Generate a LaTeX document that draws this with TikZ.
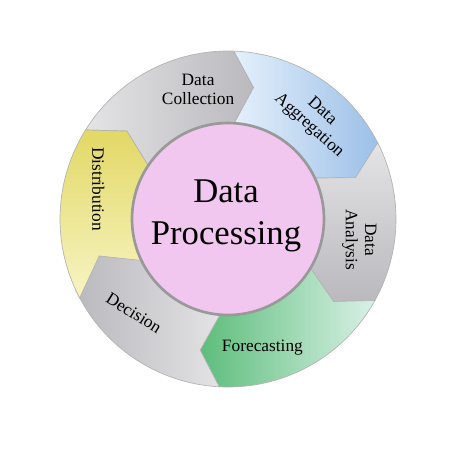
\documentclass[tikz,border=0pt]{standalone}
\usepackage{fontspec}
\setmainfont{Liberation Serif}
\usepackage{tikz}

\definecolor{cGray}{HTML}{B9B9BE}
\definecolor{cGrayLt}{HTML}{E4E4E6}
\definecolor{cBlue}{HTML}{9CC0E8}
\definecolor{cBlueLt}{HTML}{E6F1FB}
\definecolor{cGreen}{HTML}{5DBD7B}
\definecolor{cGreenLt}{HTML}{D9F1E6}
\definecolor{cYellow}{HTML}{E2D865}
\definecolor{cYellowLt}{HTML}{F7F4C4}
\definecolor{cPink}{HTML}{F1C7EF}

\begin{document}
\begin{tikzpicture}[x=0.75pt,y=0.75pt,
  seg/.style={draw=black!30, line width=0.5pt},
  lbl/.style={text=black, align=center, inner sep=0pt, font=\fontsize{13}{14.5}\selectfont}]
\def\R{168}
\def\Ri{90}
\def\M{134}
\def\rc{96}
\def\m{133}
\useasboundingbox (-228,-242) rectangle (246,219);
\coordinate (O) at (0,0);
% ring of arrows, clockwise
\shadedraw[seg, left color=cGrayLt, right color=cGray] (148:\R) arc[start angle=148, end angle=88, radius=\R] -- (79:\M) -- (88:\Ri) arc[start angle=88, end angle=148, radius=\Ri] -- (139:\M) -- cycle;
\shadedraw[seg, left color=cBlueLt, right color=cBlue] (88:\R) arc[start angle=88, end angle=27, radius=\R] -- (18:\M) -- (27:\Ri) arc[start angle=27, end angle=88, radius=\Ri] -- (79:\M) -- cycle;
\shadedraw[seg, top color=cGrayLt, bottom color=cGray] (27:\R) arc[start angle=27, end angle=-29, radius=\R] -- (-38:\M) -- (-29:\Ri) arc[start angle=-29, end angle=27, radius=\Ri] -- (18:\M) -- cycle;
\shadedraw[seg, left color=cGreen, right color=cGreenLt] (-29:\R) arc[start angle=-29, end angle=-93, radius=\R] -- (-102:\M) -- (-93:\Ri) arc[start angle=-93, end angle=-29, radius=\Ri] -- (-38:\M) -- cycle;
\shadedraw[seg, left color=cGray, right color=cGrayLt] (-93:\R) arc[start angle=-93, end angle=-155, radius=\R] -- (-164:\M) -- (-155:\Ri) arc[start angle=-155, end angle=-93, radius=\Ri] -- (-102:\M) -- cycle;
\shadedraw[seg, top color=cYellow, bottom color=cYellowLt] (208:\R) arc[start angle=208, end angle=148, radius=\R] -- (139:\M) -- (148:\Ri) arc[start angle=148, end angle=208, radius=\Ri] -- (196:\M) -- cycle;
% centre
\filldraw[fill=cPink, draw=black!40, line width=2pt] (O) circle[radius=\rc];
\node[text=black, align=center, inner sep=0pt, font=\fontsize{26}{31}\selectfont] (proc) at (-2,3) {Data\\Processing};
% labels
\node[lbl] (coll) at (103:\m) {Data\\Collection};
\node[lbl, rotate=-42] (aggr) at (49:\m) {Data\\Aggregation};
\node[lbl, rotate=-90] (anal) at (-9:\m) {Data\\Analysis};
\node[lbl] (fore) at (-75:\m) {Forecasting};
\node[lbl, rotate=-32] (deci) at (-135:\m) {Decision};
\node[lbl, rotate=-90] (dist) at (167:\m) {Distribution};
\end{tikzpicture}
\end{document}
